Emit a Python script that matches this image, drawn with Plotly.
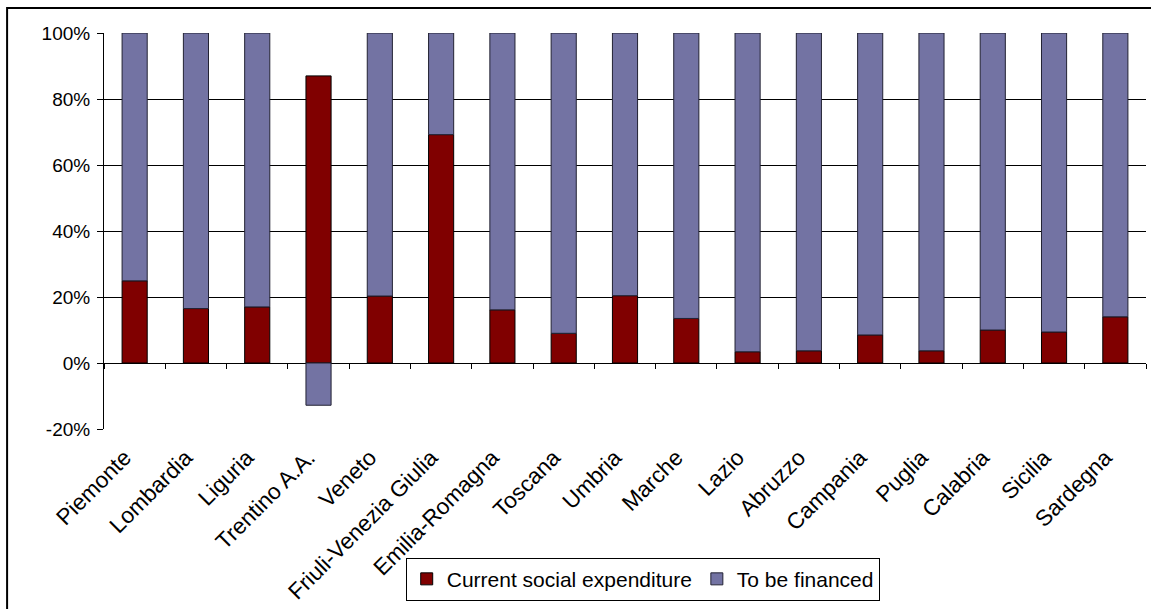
import plotly.graph_objects as go

regions = ["Piemonte", "Lombardia", "Liguria", "Trentino A.A.", "Veneto",
           "Friuli-Venezia Giulia", "Emilia-Romagna", "Toscana", "Umbria",
           "Marche", "Lazio", "Abruzzo", "Campania", "Puglia", "Calabria",
           "Sicilia", "Sardegna"]
current_social = [24.9, 16.5, 17.0, 87.0, 20.3, 69.2, 16.1, 9.0, 20.4,
                  13.5, 3.4, 3.7, 8.5, 3.7, 10.0, 9.4, 14.0]
to_be_financed = [75.1, 83.5, 83.0, -12.8, 79.7, 30.8, 83.9, 91.0, 79.6,
                  86.5, 96.6, 96.3, 91.5, 96.3, 90.0, 90.6, 86.0]
y_ticks = [-20, 0, 20, 40, 60, 80, 100]
y_tick_labels = ["-20%", "0%", "20%", "40%", "60%", "80%", "100%"]

RED = "#800000"
BLUE = "#7373a3"
FONT = "Liberation Sans, Arial, sans-serif"

fig = go.Figure()
fig.add_trace(go.Bar(x=regions, y=current_social, name="Current social expenditure",
                     marker=dict(color=RED, line=dict(color="black", width=1)),
                     width=0.41))
fig.add_trace(go.Bar(x=regions, y=to_be_financed, name="To be financed",
                     marker=dict(color=BLUE, line=dict(color="#222233", width=1)),
                     width=0.41))
# invisible trace to carry the tick axis at the zero line
fig.add_trace(go.Scatter(x=regions, y=[None] * len(regions), xaxis="x2",
                         showlegend=False, hoverinfo="skip"))

zero_pos = (0 - y_ticks[0]) / (y_ticks[-1] - y_ticks[0])

fig.update_layout(
    width=1151, height=609,
    margin=dict(l=104, r=5, t=33, b=180),
    paper_bgcolor="white", plot_bgcolor="white",
    barmode="relative",
    font=dict(family=FONT, color="black", size=19),
    showlegend=True,
    legend=dict(orientation="h", x=0.517, xanchor="center", y=-0.325, yanchor="top",
                bordercolor="black", borderwidth=1, font=dict(size=21),
                traceorder="normal", itemwidth=30, tracegroupgap=0),
    xaxis=dict(type="category", categoryorder="array", categoryarray=regions,
               range=[-0.5, len(regions) - 0.5], tickangle=-45, ticks="",
               ticklabelstandoff=10, ticklabelshift=-10,
               showline=False, showgrid=False, tickfont=dict(size=22.5)),
    xaxis2=dict(type="category", categoryorder="array", categoryarray=regions,
                range=[-0.5, len(regions) - 0.5], overlaying="x", anchor="free",
                position=zero_pos, side="bottom", ticks="outside", tickson="boundaries",
                ticklen=5, tickcolor="black", showticklabels=False, showline=False,
                showgrid=False),
    yaxis=dict(range=[y_ticks[0], y_ticks[-1]], tickmode="array", tickvals=y_ticks,
               ticktext=y_tick_labels, ticklabelstandoff=3,
               ticks="outside", ticklen=6, tickcolor="black", showline=True,
               linecolor="black", linewidth=1, showgrid=True, gridcolor="black",
               gridwidth=1, zeroline=True, zerolinecolor="black", zerolinewidth=1,
               tickfont=dict(size=19)),
    shapes=[dict(type="rect", xref="paper", yref="paper", x0=-0.093, x1=1.02,
                 y0=-0.6, y1=1.063, line=dict(color="black", width=2),
                 fillcolor="rgba(0,0,0,0)", layer="below")],
)

fig.write_html("out.html")
